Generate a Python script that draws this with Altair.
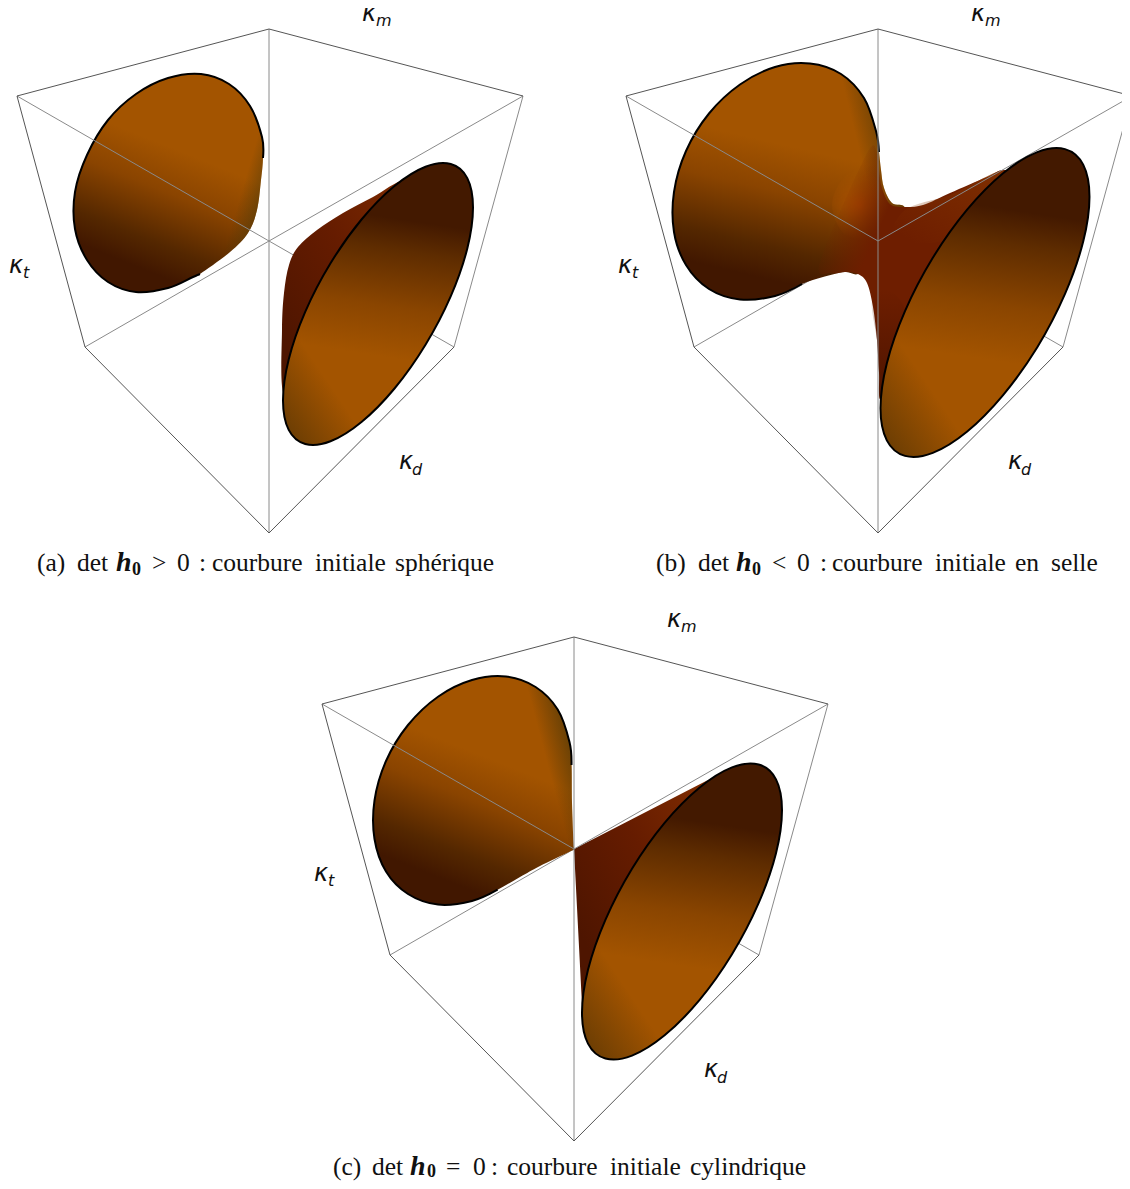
import altair as alt
import pandas as pd

# --- outlines (pixels) ---
BOX_UNDER = [[(269,241),(85,347)],[(269,241),(454,347)]]
BOX_GRAY = [[(269,29),(269,241)],[(17,96),(269,241)],[(523,96),(269,241)],[(523,96),(454,347)],[(269,241),(269,533)]]
BOX_DARK = [[(269,29),(17,96)],[(269,29),(523,96)],[(17,96),(85,347)],[(85,347),(269,533)],[(454,347),(269,533)]]
OFFSETS = [(0,0),(609,0),(305,608)]

LOBE_A = [(200,274),(193,277),(168,288),(136,292),(108,282),(87,260),(75,229),(75,192),(87,155),(108,120),(136,94),(168,78),(201,74),
          (229,84),(250,106),(262,137),(263,158),(261,180),(257,210),(248,233),(230,252)]
LOBE_A_OUT = 17
RED_A = [(405,180),(373,197),(343,213),(317,230),(298,247),(289,265),(284,293),(282,330),(283,392),(300,400),(400,260),(430,190)]
ELL_A = [(473,207.5),(467.3,178.1),(450.8,164),(425.5,166.7),(394.5,186),(361.5,219.5),(330.5,263.3),(305.2,311.9),(288.7,359.5),
         (283,400.5),(288.7,429.9),(305.2,444),(330.5,441.3),(361.5,422),(394.5,388.5),(425.5,344.7),(450.8,296.1),(467.3,248.5)]

LOBE_B = [(802,284),(775,296),(740,299.5),(709,289),(686,265),(674,232),(674,192),(686,151),(709,113.5),(740,84.5),(775,67),(810,63.5),
          (841,74),(864,98),(876,131),(879,152),(881,170),(884,188),(892,203),(905,208),(900,235),(872,262),(858,274),(845,272),(823,277)]
LOBE_B_OUT = 16
BODY_B = [(820,262),(866,155),(877,152),(879,170),(882,188),(890,204),(903,207),(923,205),(950,193),(987,177),(1006,170),(1040,180),
          (1000,260),(900,380),(881,400),(879,373),(877,340),(873,307),(867,283),(858,274),(845,272),(832,273)]
TOP_B = [(905,210),(950,195),(1004,172),(960,235),(895,240)]
NECK_B = [(872,300),(877,340),(879,373),(881,398),(897,340),(905,310),(888,290)]
GLOW_B = [(862,167),(877,180),(888,205),(880,232),(862,243),(842,232),(832,205),(842,180)]
ELL_B = [(1089.5,196.7),(1083.2,164.6),(1065,149.1),(1037.3,152.1),(1003.1,173.2),(966.9,209.9),(932.8,257.8),(905,311.1),(886.8,363.4),
         (880.5,408.3),(886.8,440.4),(905,455.9),(932.8,452.9),(966.9,431.8),(1003.1,395.1),(1037.3,347.2),(1065,293.9),(1083.2,241.6)]

LOBE_C = [(497.6,889.7),(472,901),(438,904.6),(408,894),(386,871.5),(374.5,839),(374.5,800.5),(386,761),(408,725),(438,696.7),(472,680),
          (506,676.5),(535.6,687),(557.7,709.5),(569.5,742),(571.5,765)]
TIP_C = [(572,803),(573.5,843),(574,849),(569,852),(540,866),(520,877)]
RED_C = [(708,780),(574,849),(582,1005),(640,870)]
ELL_C = [(782,810.2),(776,779.4),(758.6,764.5),(732,767.4),(699.4,787.7),(664.6,822.8),(632,868.7),(605.4,919.8),(588,969.8),
         (582,1012.8),(588,1043.6),(605.4,1058.5),(632,1055.6),(664.6,1035.3),(699.4,1000.2),(732,954.3),(758.6,903.2),(776,853.2)]

KAPPA = [("κ",362,19),("κ",9,273),("κ",399,469)]
KAPPA_SUB = [("m",376,24),("t",23,278),("d",412,475)]

CAP_A = [("(a)",37,571),("det",77,571),(">",152,571),("0",177,571),(":",199,571),("courbure",212,571),("initiale",315,571),("sphérique",395,571)]
CAP_B = [("(b)",656,571),("det",698,571),("<",772,571),("0",797,571),(":",820,571),("courbure",832,571),("initiale",935,571),("en",1015,571),("selle",1051,571)]
CAP_C = [("(c)",333,1175),("det",372,1175),("=",446,1175),("0",473,1175),(":",491,1175),("courbure",507,1175),("initiale",610,1175),("cylindrique",690,1175)]
CAP_H = [("h",116,571),("h",736,571),("h",410,1175)]
CAP_0 = [("0",132,575),("0",752,575),("0",427,1177)]

X = alt.X("x:Q", scale=alt.Scale(domain=[8,1122], nice=False, zero=False), axis=None)
Y = alt.Y("y:Q", scale=alt.Scale(domain=[1181,8], nice=False, zero=False), axis=None)

def shape(pts, fill=None, stroke=None, sw=2.0, interp="cardinal-closed"):
    df = pd.DataFrame({"x":[p[0] for p in pts],"y":[p[1] for p in pts],"i":range(len(pts))})
    kw = {"interpolate":interp}
    if fill is not None: kw["fill"] = fill
    kw["stroke"] = stroke if stroke else "transparent"
    kw["strokeWidth"] = sw
    return alt.Chart(df).mark_line(**kw).encode(x=X, y=Y, order=alt.Order("i:Q"))

def grad(x1,y1,x2,y2,stops):
    return alt.Gradient(gradient="linear",x1=x1,y1=y1,x2=x2,y2=y2,
                        stops=[alt.GradientStop(offset=o,color=c) for o,c in stops])

def radial(stops):
    return alt.RadialGradient(gradient="radial",x1=.5,y1=.5,r1=0,x2=.5,y2=.5,r2=.5,
                        stops=[alt.GradientStop(offset=o,color=c) for o,c in stops])

def lines(segs, color, dx, dy, width=1.0):
    rows=[]
    for k,s in enumerate(segs):
        for j,p in enumerate(s):
            rows.append({"x":p[0]+dx,"y":p[1]+dy,"k":k,"i":j})
    return alt.Chart(pd.DataFrame(rows)).mark_line(color=color,strokeWidth=width).encode(x=X,y=Y,detail="k:N",order=alt.Order("i:Q"))

def texts(rows, size, font, style="normal", weight="normal"):
    df = pd.DataFrame(rows, columns=["t","x","y"])
    return alt.Chart(df).mark_text(align="left",baseline="alphabetic",fontSize=size,font=font,
                                   fontStyle=style,fontWeight=weight,color="#111").encode(x=X,y=Y,text="t:N")

LOBE_G = [(0,"#a35400"),(.30,"#a35400"),(.52,"#8a4400"),(.78,"#542700"),(.93,"#411700"),(1,"#411700")]
ELL_G = [(0,"#431900"),(.22,"#431900"),(.36,"#5e2c00"),(.62,"#8a4500"),(.85,"#a35400"),(1,"#a35400")]
RED_G = [(0,"#7c2a00"),(.45,"#661c00"),(1,"#4e1500")]
SIDE_L = [(0,"rgba(80,50,5,0.75)"),(.85,"rgba(80,50,5,0)"),(1,"rgba(80,50,5,0)")]
SIDE_R = [(0,"rgba(75,58,10,0)"),(.84,"rgba(75,58,10,0)"),(1,"rgba(75,58,10,0.7)")]
SIDE_T = [(0,"rgba(75,55,8,0)"),(.3,"rgba(75,55,8,0)"),(1,"rgba(75,55,8,.7)")]

layers=[]
for dx,dy in OFFSETS:
    layers.append(lines(BOX_UNDER,"#8a8a8a",dx,dy))

# panel a
layers += [
    shape(LOBE_A, grad(.72,.12,.42,.98,LOBE_G)),
    shape(LOBE_A, grad(.2,.35,1,.62,SIDE_R)),
    shape(LOBE_A[:LOBE_A_OUT], stroke="black", interp="cardinal"),
    shape(RED_A, grad(.85,.05,.1,.8,RED_G)),
]
# panel b
layers += [
    shape(LOBE_B, grad(.62,.1,.42,.98,LOBE_G)),
    shape(LOBE_B, grad(.72,.3,.92,.25,SIDE_T)),
    shape(GLOW_B, radial([(0,"rgba(178,76,0,.95)"),(.45,"rgba(172,80,0,.5)"),(.9,"rgba(170,84,0,0)"),(1,"rgba(170,84,0,0)")])),
    shape(BODY_B, grad(.136,.153,.317,.245,[(0,"rgba(110,30,0,0)"),(1,"rgba(110,30,0,1)")])),
    shape(TOP_B, grad(.9,0,.1,.9,[(0,"rgba(132,52,0,.7)"),(1,"rgba(132,52,0,0)")])),
    shape(NECK_B, grad(.5,0,.5,1,[(0,"rgba(70,18,0,0)"),(1,"rgba(70,18,0,.8)")])),
    shape(LOBE_B[:LOBE_B_OUT], stroke="black", interp="cardinal"),
]
# panel c
layers += [
    shape(LOBE_C+TIP_C, grad(.72,.12,.42,.98,LOBE_G)),
    shape(LOBE_C+TIP_C, grad(.76,.25,.96,.19,SIDE_T)),
    shape(LOBE_C, stroke="black", interp="cardinal"),
    shape(RED_C, grad(.9,.02,.1,.75,RED_G), interp="linear-closed"),
]
for dx,dy in OFFSETS:
    layers.append(lines(BOX_GRAY,"#8a8a8a",dx,dy))
    layers.append(lines(BOX_DARK,"#555555",dx,dy))

for e in (ELL_A,ELL_B,ELL_C):
    layers.append(shape(e, grad(.56,.02,.48,.8,ELL_G)))
    layers.append(shape(e, grad(0,.98,.26,.72,SIDE_L)))
    layers.append(shape(e, stroke="black"))

for dx,dy in OFFSETS:
    shift = 0 if dy else 2
    layers.append(texts([(a,b+dx,c+dy+(shift if i==0 else 0)) for i,(a,b,c) in enumerate(KAPPA)],24,"DejaVu Sans","italic"))
    layers.append(texts([(a,b+dx,c+dy+(shift if i==0 else 0)) for i,(a,b,c) in enumerate(KAPPA_SUB)],16,"DejaVu Sans","italic"))

layers.append(texts(CAP_A+CAP_B+CAP_C,25.5,"Liberation Serif"))
layers.append(texts(CAP_H,28,"Liberation Serif","italic","bold"))
layers.append(texts(CAP_0,18,"Liberation Serif","normal","bold"))

chart = alt.layer(*layers).properties(width=1114,height=1173,padding=0,
        autosize=alt.AutoSizeParams(type="none")).configure_view(stroke=None)
chart.save("out.html", embed_options={"renderer":"svg","actions":False})
